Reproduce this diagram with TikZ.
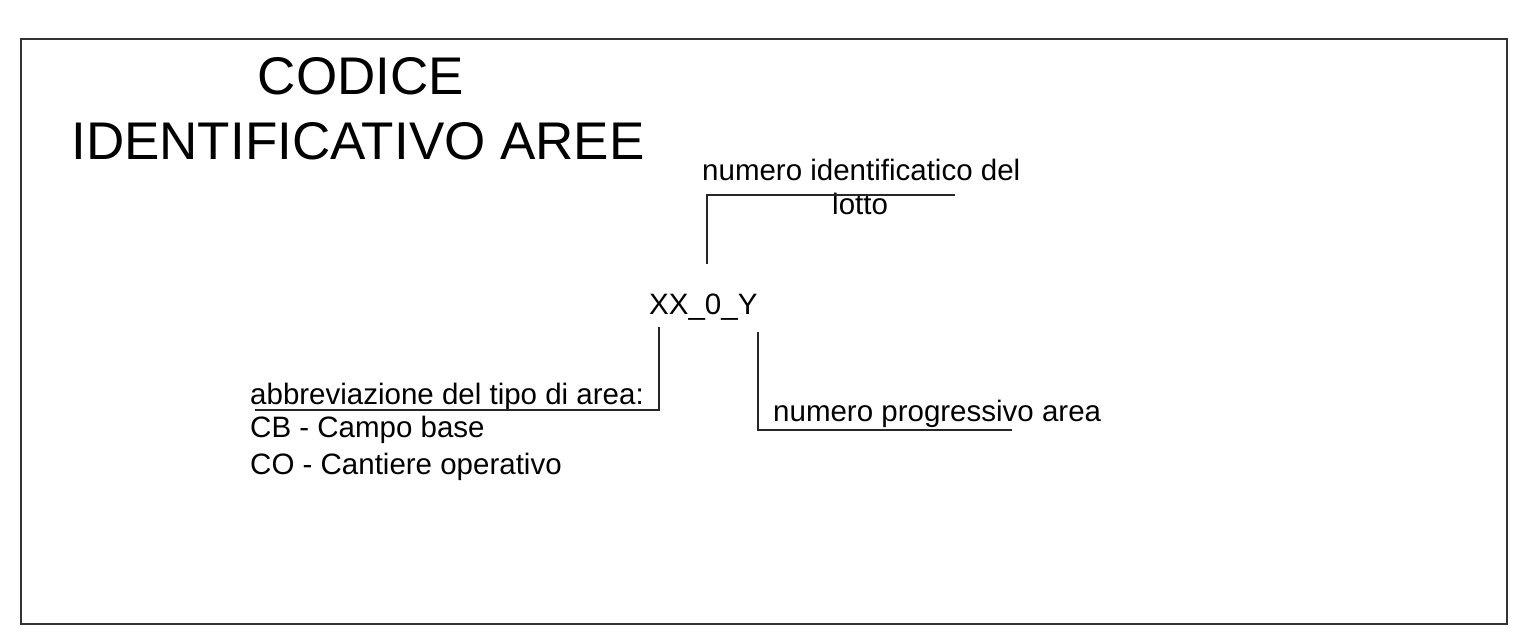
\documentclass[tikz,border=0pt]{standalone}
\usepackage{fontspec}
\setmainfont{Liberation Sans}
\begin{document}
\begin{tikzpicture}[x=1pt, y=-1pt,
  testo/.style={inner sep=0pt, anchor=base west, font=\fontsize{29.5}{36}\selectfont},
  titolo/.style={inner sep=0pt, anchor=base, font=\fontsize{53}{64}\selectfont},
  richiamo/.style={draw=black!85, line width=1.3pt}]
\useasboundingbox (0,0) rectangle (1527,636);
\draw [draw = black!80, line width = 1.6pt] (21,39) rectangle (1507,624);
\node [titolo] (tit1) at (361,94.5) {CODICE};
\node [titolo] (tit2) at (358,160) {IDENTIFICATIVO AREE};
\node [testo] (codice) at (649,315) {XX\_0\_Y};
\node [testo] (lotto1) at (702,181) {numero identificatico del};
\node [testo] (lotto2) at (832,215) {lotto};
\node [testo] (tipo) at (250,404) {abbreviazione del tipo di area:};
\node [testo] (cb) at (250,438) {CB - Campo base};
\node [testo] (co) at (250,474) {CO - Cantiere operativo};
\node [testo] (prog) at (773,421) {numero progressivo area};
\coordinate (lottoA) at (707,264);
\coordinate (lottoB) at (955,195);
\coordinate (tipoA) at (659,327);
\coordinate (tipoB) at (255,410);
\coordinate (progA) at (758,332);
\coordinate (progB) at (1012,430);
\draw [richiamo] (lottoA) |- (lottoB);
\draw [richiamo] (tipoA) |- (tipoB);
\draw [richiamo] (progA) |- (progB);
\end{tikzpicture}
\end{document}
